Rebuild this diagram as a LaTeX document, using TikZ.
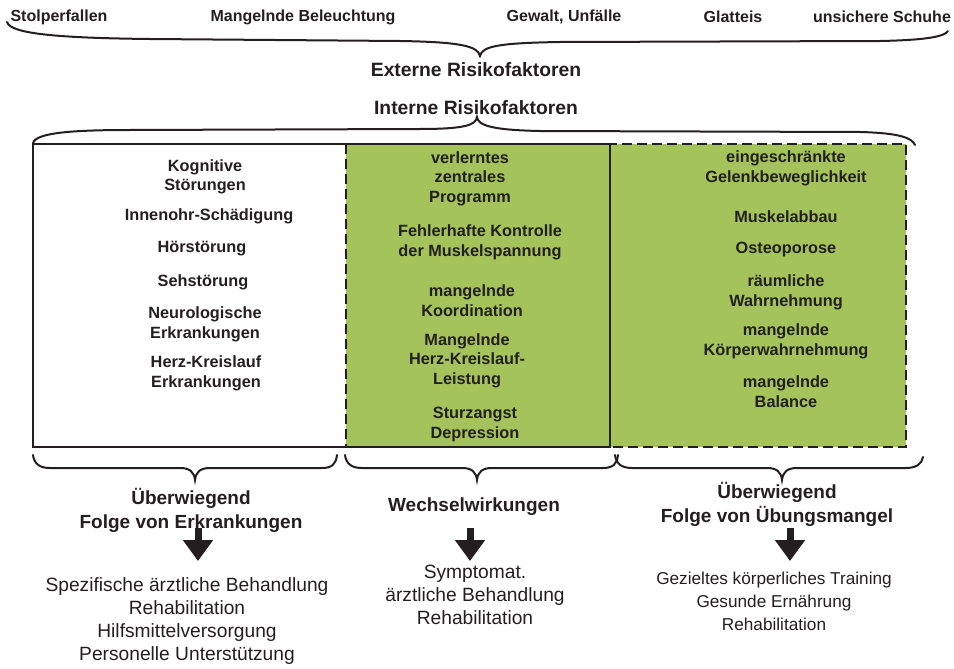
\documentclass[tikz,border=0pt]{standalone}
\usepackage{fontspec}
\setmainfont{Liberation Sans}
\usetikzlibrary{arrows.meta}
\definecolor{ink}{HTML}{231F20}
\definecolor{leaf}{HTML}{A4C35A}
\begin{document}
\begin{tikzpicture}[x=1pt,y=-1pt,
  every node/.style={text=ink, inner sep=0pt, align=center},
  topitem/.style={font=\fontsize{16}{19}\selectfont\bfseries},
  heading/.style={font=\fontsize{19.3}{22}\selectfont\bfseries},
  factor/.style={font=\fontsize{16.3}{19.5}\selectfont\bfseries},
  outcome/.style={font=\fontsize{19}{24}\selectfont\bfseries},
  measure/.style={font=\fontsize{19.2}{23}\selectfont},
  measuresmall/.style={font=\fontsize{17.2}{23}\selectfont},
  brace/.style={draw=ink, line width=2pt, line cap=round},
  blockarrow/.style={draw=ink, line width=7pt, -{Triangle[width=29pt,length=21pt]}},
]
\useasboundingbox (0,0) rectangle (954,669);

% external risk factors
\node[topitem] (ext1) at (59,17) {Stolperfallen};
\node[topitem] (ext2) at (303,17) {Mangelnde Beleuchtung};
\node[topitem] (ext3) at (564,17) {Gewalt, Unfälle};
\node[topitem] (ext4) at (733,17) {Glatteis};
\node[topitem] (ext5) at (882,17) {unsichere Schuhe};
\draw[brace] (7,22) .. controls (10,34) and (60,38) .. (150,39) -- (400,41)
  .. controls (460,42) and (478,46) .. (480,56)
  .. controls (482,46) and (500,43) .. (560,42) -- (880,41)
  .. controls (930,40) and (945,36) .. (948,31);
\node[heading] (extern) at (476,70) {Externe Risikofaktoren};

% internal risk factors
\node[heading] (intern) at (476,108) {Interne Risikofaktoren};
\draw[brace] (33,143) .. controls (36,133) and (70,130) .. (130,130) -- (420,129)
  .. controls (465,129) and (476,125) .. (477,117)
  .. controls (478,125) and (490,130) .. (540,131) -- (860,132)
  .. controls (900,133) and (912,138) .. (915,145);

% panels
\fill[leaf] (346,144) rectangle (906,447);
\draw[ink, line width=2.5pt, dash pattern=on 10pt off 5pt] (346,144) rectangle (906,447);
\draw[ink, line width=2pt] (33,144) rectangle (610,447);

% left column
\node[factor] (k1) at (205,177) {Kognitive\\Störungen};
\node[factor] (k2) at (209,216) {Innenohr-Schädigung};
\node[factor] (k3) at (202,249) {Hörstörung};
\node[factor] (k4) at (203,282) {Sehstörung};
\node[factor] (k5) at (205,324.5) {Neurologische\\Erkrankungen};
\node[factor] (k6) at (206,373.5) {Herz-Kreislauf\\Erkrankungen};

% middle column
\node[factor] (m1) at (470,178.5) {verlerntes\\zentrales\\Programm};
\node[factor] (m2) at (480,242.5) {Fehlerhafte Kontrolle\\der Muskelspannung};
\node[factor] (m3) at (472,300.5) {mangelnde\\Koordination};
\node[factor] (m4) at (467,360.5) {Mangelnde\\Herz-Kreislauf-\\Leistung};
\node[factor] (m5) at (475,424.5) {Sturzangst\\Depression};

% right column
\node[factor] (r1) at (786,168.5) {eingeschränkte\\Gelenkbeweglichkeit};
\node[factor] (r2) at (786,217) {Muskelabbau};
\node[factor] (r3) at (786,249) {Osteoporose};
\node[factor] (r4) at (786,292.5) {räumliche\\Wahrnehmung};
\node[factor] (r5) at (786,341.5) {mangelnde\\Körperwahrnehmung};
\node[factor] (r6) at (786,391.5) {mangelnde\\Balance};

% lower braces
\draw[brace] (33,455) .. controls (34,464) and (40,468) .. (50,468) -- (180,468)
  .. controls (190,468) and (194,472) .. (195,480)
  .. controls (196,472) and (200,468) .. (210,468) -- (322,468)
  .. controls (332,468) and (336,464) .. (337,455);
\draw[brace] (345,455) .. controls (346,464) and (352,468) .. (362,468) -- (462,468)
  .. controls (472,468) and (476,472) .. (477,480)
  .. controls (478,472) and (482,468) .. (492,468) -- (603,468)
  .. controls (613,468) and (617,464) .. (618,455);
\draw[brace] (615,455) .. controls (616,464) and (622,468) .. (632,468) -- (767,468)
  .. controls (777,468) and (781,472) .. (782,480)
  .. controls (783,472) and (787,468) .. (797,468) -- (906,468)
  .. controls (916,468) and (922,464) .. (923,457);

% consequences
\node[outcome] (o1) at (191,510.5) {Überwiegend\\Folge von Erkrankungen};
\node[outcome] (o2) at (474,507) {Wechselwirkungen};
\node[outcome] (o3) at (777,504.5) {Überwiegend\\Folge von Übungsmangel};

\coordinate (a1s) at (198,528);
\coordinate (a1e) at (198,561);
\coordinate (a2s) at (470,528);
\coordinate (a2e) at (470,561);
\coordinate (a3s) at (790,528);
\coordinate (a3e) at (790,561);
\draw[blockarrow] (a1s) -- (a1e);
\draw[blockarrow] (a2s) -- (a2e);
\draw[blockarrow] (a3s) -- (a3e);

\node[measure] (t1) at (187,621.5) {Spezifische ärztliche Behandlung\\Rehabilitation\\Hilfsmittelversorgung\\Personelle Unterstützung};
\node[measure] (t2) at (475,594.5) {Symptomat.\\ärztliche Behandlung\\Rehabilitation};
\node[measuresmall] (t3) at (774,601) {Gezieltes körperliches Training\\Gesunde Ernährung\\Rehabilitation};
\end{tikzpicture}
\end{document}
